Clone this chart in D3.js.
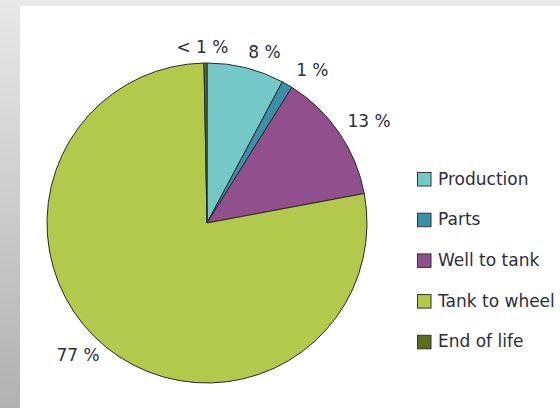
<!DOCTYPE html>
<html>
<head>
<meta charset="utf-8">
<script src="https://cdn.jsdelivr.net/npm/d3@7"></script>
<style>
html,body{margin:0;padding:0;background:#fff;}
svg{display:block;}
</style>
</head>
<body>
<svg id="chart" width="560" height="408"></svg>
<script>
const categories = ["Production", "Parts", "Well to tank", "Tank to wheel", "End of life"];
const values = [7.8, 1.1, 13.15, 77.65, 0.3];
const valueLabels = ["8 %", "1 %", "13 %", "77 %", "< 1 %"];
const colors = ["#74c9c8", "#3b8fa7", "#924f8e", "#b3c94b", "#5d6d1d"];

const svg = d3.select("#chart");
const defs = svg.append("defs");
const grad = defs.append("linearGradient").attr("id", "lg").attr("x1", 0).attr("y1", 0).attr("x2", 0).attr("y2", 1);
grad.append("stop").attr("offset", "0%").attr("stop-color", "#e8e8e8");
grad.append("stop").attr("offset", "100%").attr("stop-color", "#b1b1b1");

svg.append("rect").attr("x", 0).attr("y", 0).attr("width", 560).attr("height", 408).attr("fill", "#e9e9e9");
svg.append("rect").attr("x", 0).attr("y", 0).attr("width", 20).attr("height", 408).attr("fill", "url(#lg)");
svg.append("rect").attr("x", 20).attr("y", 6).attr("width", 540).attr("height", 402).attr("fill", "#ffffff");

const cx = 207, cy = 223, r = 160;
const data = categories.map((c, i) => ({cat: c, value: values[i], label: valueLabels[i], color: colors[i]}));
const pie = d3.pie().sort(null).value(d => d.value).startAngle(0).endAngle(2 * Math.PI);
const arcs = pie(data);
const arc = d3.arc().innerRadius(0).outerRadius(r);

const g = svg.append("g").attr("transform", `translate(${cx},${cy})`);
g.selectAll("path").data(arcs).join("path")
  .attr("d", arc)
  .attr("fill", d => d.data.color)
  .attr("stroke", "#2a2a2a")
  .attr("stroke-width", 1)
  .attr("stroke-linejoin", "round");

// labels anchored just outside the slice along its mid angle
const labelArc = d3.arc().innerRadius(170).outerRadius(170);
const txt = svg.append("g").attr("font-family", "'DejaVu Sans', Verdana, sans-serif").attr("font-size", 17).attr("fill", "#2d2d3c");
arcs.forEach(a => {
  const [px, py] = labelArc.centroid(a);
  const ang = (a.startAngle + a.endAngle) / 2;
  const s = Math.sin(ang), c = Math.cos(ang);
  const anchor = s > 0.1 ? "start" : (s < -0.1 ? "end" : "middle");
  const y = c >= 0 ? py : py + 6.5;
  const nudge = (a.endAngle - a.startAngle) < 0.1 && anchor === "start" ? 4 : 0;
  txt.append("text")
    .attr("x", cx + px + (anchor === "middle" ? -3 : 0) + nudge)
    .attr("y", cy + y)
    .attr("text-anchor", anchor)
    .text(a.data.label);
});

// legend
const legend = svg.append("g").attr("transform", "translate(417,172)");
const rowH = 40.7;
const items = legend.selectAll("g").data(data).join("g").attr("transform", (d, i) => `translate(0,${i * rowH})`);
items.append("rect").attr("x", 0.5).attr("y", 0.5).attr("width", 13.5).attr("height", 13.5)
  .attr("fill", d => d.color).attr("stroke", "#333").attr("stroke-width", 1);
items.append("text").attr("x", 21).attr("y", 7.5).attr("dominant-baseline", "middle")
  .attr("font-family", "'DejaVu Sans', Verdana, sans-serif").attr("font-size", 17).attr("fill", "#2d2d3c")
  .text(d => d.cat);
</script>
</body>
</html>
